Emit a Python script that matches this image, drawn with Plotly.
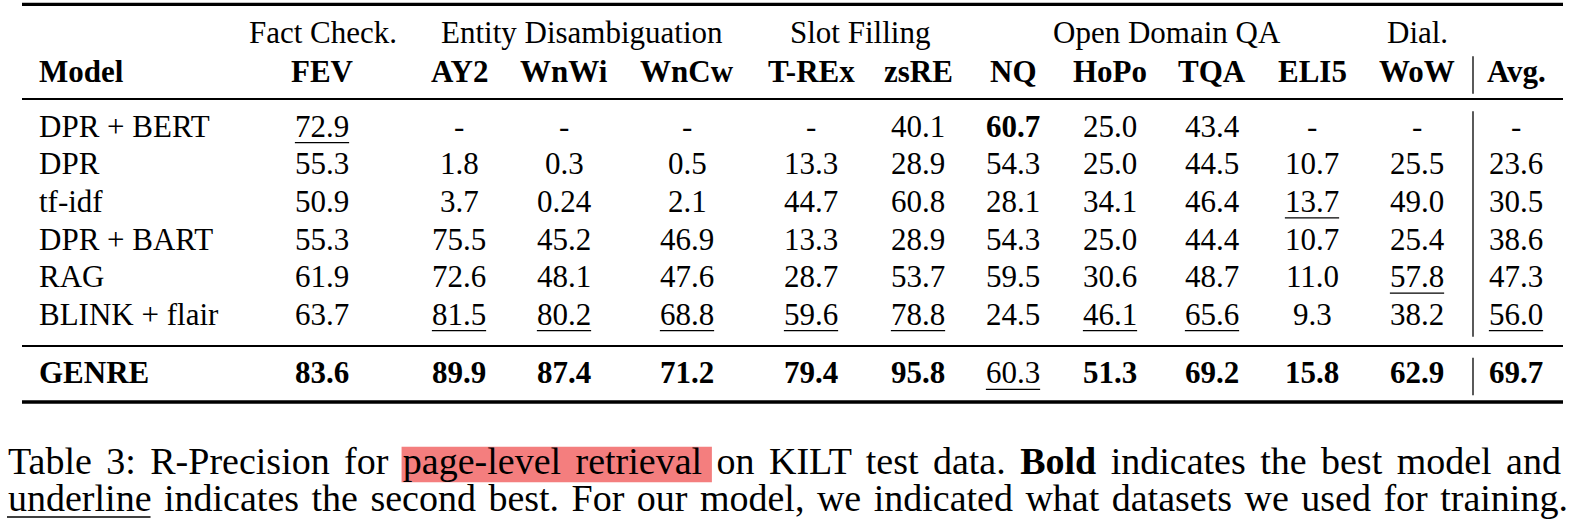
import plotly.graph_objects as go

# ---------------- data ----------------
group_labels = ["Fact Check.", "Entity Disambiguation", "Slot Filling", "Open Domain QA", "Dial."]
columns = ["FEV", "AY2", "WnWi", "WnCw", "T-REx", "zsRE", "NQ", "HoPo", "TQA", "ELI5", "WoW", "Avg."]
models = ["DPR + BERT", "DPR", "tf-idf", "DPR + BART", "RAG", "BLINK + flair", "GENRE"]
our_model = "GENRE"

dpr_bert = ["72.9", "-", "-", "-", "-", "40.1", "60.7", "25.0", "43.4", "-", "-", "-"]
dpr = ["55.3", "1.8", "0.3", "0.5", "13.3", "28.9", "54.3", "25.0", "44.5", "10.7", "25.5", "23.6"]
tf_idf = ["50.9", "3.7", "0.24", "2.1", "44.7", "60.8", "28.1", "34.1", "46.4", "13.7", "49.0", "30.5"]
dpr_bart = ["55.3", "75.5", "45.2", "46.9", "13.3", "28.9", "54.3", "25.0", "44.4", "10.7", "25.4", "38.6"]
rag = ["61.9", "72.6", "48.1", "47.6", "28.7", "53.7", "59.5", "30.6", "48.7", "11.0", "57.8", "47.3"]
blink_flair = ["63.7", "81.5", "80.2", "68.8", "59.6", "78.8", "24.5", "46.1", "65.6", "9.3", "38.2", "56.0"]
genre = ["83.6", "89.9", "87.4", "71.2", "79.4", "95.8", "60.3", "51.3", "69.2", "15.8", "62.9", "69.7"]
rows = [dpr_bert, dpr, tf_idf, dpr_bart, rag, blink_flair, genre]

caption_line1 = "Table 3: R-Precision for page-level retrieval on KILT test data. Bold indicates the best model and"
caption_line2 = "underline indicates the second best. For our model, we indicated what datasets we used for training."
highlight_words = "page-level retrieval"
bold_word = "Bold"
underline_word = "underline"

# ---------------- layout geometry ----------------
W, H = 1579, 529
FONT = "Liberation Serif, Times New Roman, Times, serif"
FT = 31          # table font size
FC = 38          # caption font size
INK = "#000000"

group_x = [323, 582, 860, 1167, 1417]
col_x = [322, 459, 564, 687, 811, 918, 1013, 1110, 1212, 1312, 1417, 1516]
model_x = 38
rule_x0, rule_x1 = 22, 1563
vbar_x = 1473
cap_x0, cap_x1 = 7, 1567

head1_base = 43.3
head2_base = 81.7
row1_base = 136.7
pitch = 37.6
ours_base = 383.3
row_bases = [row1_base + i * pitch for i in range(len(models) - 1)] + [ours_base]
cap1_base, cap2_base = 474, 511

# Times (Liberation Serif) advance widths, 1/1000 em
REG = {" ": 250, ",": 250, "-": 333, ".": 250, ":": 278,
       "A": 722, "B": 667, "C": 667, "D": 722, "E": 611, "F": 556, "G": 722, "H": 722, "I": 333,
       "K": 722, "L": 611, "M": 889, "N": 722, "O": 722, "P": 556, "R": 667, "S": 556, "T": 611,
       "a": 444, "b": 500, "c": 444, "d": 500, "e": 444, "f": 333, "g": 500, "h": 500, "i": 278,
       "k": 500, "l": 278, "m": 778, "n": 500, "o": 500, "p": 500, "r": 333, "s": 389, "t": 278,
       "u": 500, "v": 500, "w": 722, "y": 500}
BOLD = {"B": 667, "o": 500, "l": 278, "d": 556}


def str_w(s, f, bold=False):
    tab = BOLD if bold else REG
    return sum((tab.get(ch) or REG.get(ch, 500) if not ch.isdigit() else 500) for ch in s) * f / 1000.0


def mid(base, f):
    return base - 0.3375 * f


# best / second-best per column
best, second = [], []
for j in range(len(columns)):
    vals = sorted({float(r[j]) for r in rows if r[j] != "-"}, reverse=True)
    best.append(vals[0])
    second.append(vals[1])

ann = []
shapes = []


def text(x, y, s, size, anchor="center", bold=False):
    ann.append(dict(x=x, y=y, xref="x", yref="y", text=(f"<b>{s}</b>" if bold else s),
                    showarrow=False, xanchor=anchor, yanchor="middle", borderpad=0,
                    font=dict(family=FONT, size=size, color=INK)))


def hline(x0, x1, y, w):
    shapes.append(dict(type="line", xref="x", yref="y", x0=x0, x1=x1, y0=y, y1=y,
                       line=dict(color=INK, width=w)))


def vline(x, y0, y1, w=1.3):
    shapes.append(dict(type="line", xref="x", yref="y", x0=x, x1=x, y0=y0, y1=y1,
                       line=dict(color=INK, width=w)))


# headers
for g, gx in zip(group_labels, group_x):
    text(gx, mid(head1_base, FT), g, FT)
text(model_x, mid(head2_base, FT), "Model", FT, anchor="left", bold=True)
for c, cx in zip(columns, col_x):
    text(cx, mid(head2_base, FT), c, FT, bold=True)

# body
for m, r, base in zip(models, rows, row_bases):
    text(model_x, mid(base, FT), m, FT, anchor="left", bold=(m == our_model))
    for j, (s, cx) in enumerate(zip(r, col_x)):
        is_best = s != "-" and float(s) == best[j]
        is_second = s != "-" and float(s) == second[j]
        text(cx, mid(base, FT), s, FT, bold=is_best)
        if is_second:
            w = str_w(s, FT)
            hline(cx - w / 2, cx + w / 2, base + 6, 1.3)

# rules (booktabs)
hline(rule_x0, rule_x1, 4.3, 3.2)
hline(rule_x0, rule_x1, 99, 2)
hline(rule_x0, rule_x1, 346, 2)
hline(rule_x0, rule_x1, 402, 3.4)

# vertical separator before Avg.
for b0, b1 in [(head2_base, head2_base), (row_bases[0], row_bases[-2]), (ours_base, ours_base)]:
    vline(vbar_x, b0 - 0.68 * pitch, b1 + 0.32 * pitch)


# caption: justified lines via word-spacing
def justified(line, base):
    words = line.split(" ")
    widths = [str_w(wd, FC, bold=(wd == bold_word)) for wd in words]
    space = REG[" "] * FC / 1000.0
    natural = sum(widths) + space * (len(words) - 1)
    extra = (cap_x1 - cap_x0 - natural) / (len(words) - 1)
    starts = []
    x = cap_x0
    for wd, w in zip(words, widths):
        starts.append(x)
        x += w + space + extra
    html = line.replace(bold_word + " ", f"<b>{bold_word}</b> ") if bold_word in words else line
    ann.append(dict(x=cap_x0, y=mid(base, FC), xref="x", yref="y",
                    text=f"<span style='word-spacing:{extra:.2f}px'>{html}</span>",
                    showarrow=False, xanchor="left", yanchor="middle", borderpad=0,
                    font=dict(family=FONT, size=FC, color=INK)))
    return words, widths, starts


w1, ww1, s1 = justified(caption_line1, cap1_base)
w2, ww2, s2 = justified(caption_line2, cap2_base)

# highlight behind "page-level retrieval"
hw = highlight_words.split(" ")
i0 = w1.index(hw[0])
i1 = i0 + len(hw) - 1
shapes.append(dict(type="rect", xref="x", yref="y",
                   x0=s1[i0] - 3, x1=s1[i1] + ww1[i1] + 8,
                   y0=cap1_base - 0.72 * FC, y1=cap1_base + 0.22 * FC,
                   fillcolor="#F47E7E", line=dict(width=0), layer="below"))

# underline below "underline"
k = w2.index(underline_word)
hline(s2[k], s2[k] + ww2[k], cap2_base + 6, 1.5)

fig = go.Figure()
fig.update_layout(
    width=W, height=H, margin=dict(l=0, r=0, t=0, b=0),
    paper_bgcolor="white", plot_bgcolor="white",
    xaxis=dict(range=[0, W], visible=False, fixedrange=True),
    yaxis=dict(range=[H, 0], visible=False, fixedrange=True),
    annotations=ann, shapes=shapes, showlegend=False,
)
fig.write_html("out.html", config={"displayModeBar": False},
               post_script="document.body.style.margin='0';")
